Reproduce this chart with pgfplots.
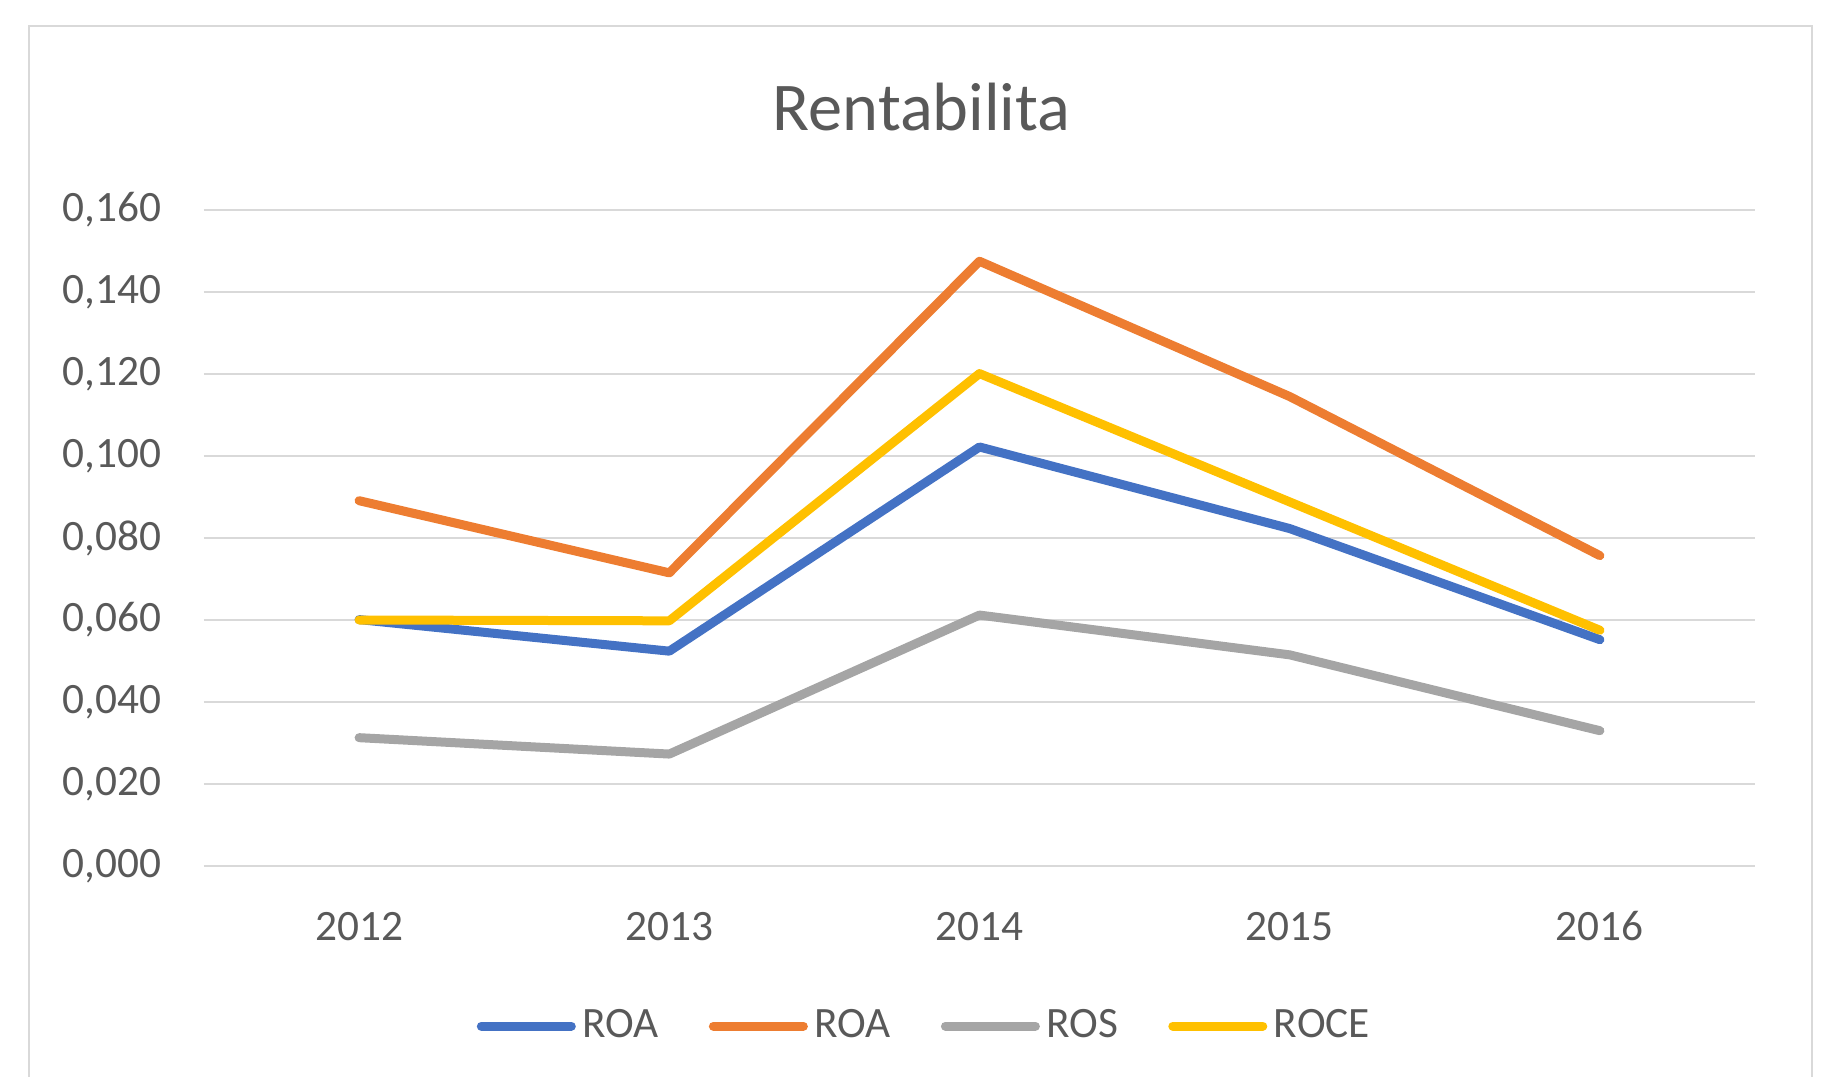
\documentclass[border=0pt]{standalone}
\usepackage{pgfplots}
\pgfplotsset{compat=1.18}
\usepackage{fontspec}
\setmainfont{Carlito}
\definecolor{cblue}{HTML}{4472C4}
\definecolor{corange}{HTML}{ED7D31}
\definecolor{cgray}{HTML}{A5A5A5}
\definecolor{cgold}{HTML}{FFC000}
\definecolor{cgrid}{HTML}{D9D9D9}
\definecolor{ctext}{HTML}{595959}
\begin{document}
\begin{tikzpicture}
\useasboundingbox (0,0) rectangle (549.3pt,-323.1pt);
\draw[cgrid, line width=0.8pt] (8.7pt,-323.1pt) -- (8.7pt,-7.8pt) -- (543.6pt,-7.8pt) -- (543.6pt,-323.1pt);
\node[text=ctext, font=\fontsize{20.5}{24}\selectfont] at (276.5pt,-32.2pt) {Rentabilita};
\begin{axis}[
  at={(61.2pt,-259.8pt)}, anchor=south west,
  scale only axis, width=465.3pt, height=196.8pt,
  xmin=-0.5, xmax=4.5, ymin=0, ymax=0.16,
  xtick={0,1,2,3,4}, xticklabels={2012,2013,2014,2015,2016},
  ytick={0,0.02,0.04,0.06,0.08,0.10,0.12,0.14,0.16},
  axis line style={draw=none},
  major tick length=0pt,
  ymajorgrids, grid style={cgrid, line width=0.8pt},
  tick label style={text=ctext, font=\fontsize{13}{15}\selectfont},
  /pgf/number format/assume math mode=true,
  /pgf/number format/use comma,
  /pgf/number format/fixed,
  /pgf/number format/fixed zerofill,
  /pgf/number format/precision=3,
  scaled y ticks=false,
  yticklabel style={xshift=-9.2pt},
  xticklabel style={yshift=-9.9pt, text height=9pt, text depth=0pt},
  legend columns=4,
  legend style={at={(0.466,-0.244)}, anchor=center, draw=none, fill=none,
    font=\fontsize{13}{15}\selectfont, text=ctext,
    /tikz/every even column/.append style={column sep=13pt},
    inner sep=0pt},
  legend image code/.code={\draw[#1, line width=2.7pt, line cap=round] (0pt,0pt) -- (27pt,0pt);},
  every axis plot/.append style={line width=2.7pt, line join=round, line cap=round, mark=none},
]
\addplot[cblue] coordinates {(0,0.0601) (1,0.0524) (2,0.1022) (3,0.0823) (4,0.0552)};
\addlegendentry{ROA}
\addplot[corange] coordinates {(0,0.0891) (1,0.0715) (2,0.1475) (3,0.1145) (4,0.0757)};
\addlegendentry{ROA}
\addplot[cgray] coordinates {(0,0.0313) (1,0.0273) (2,0.0612) (3,0.0515) (4,0.0330)};
\addlegendentry{ROS}
\addplot[cgold] coordinates {(0,0.0600) (1,0.0598) (2,0.1201) (3,0.0888) (4,0.0575)};
\addlegendentry{ROCE}
\end{axis}
\end{tikzpicture}
\end{document}
